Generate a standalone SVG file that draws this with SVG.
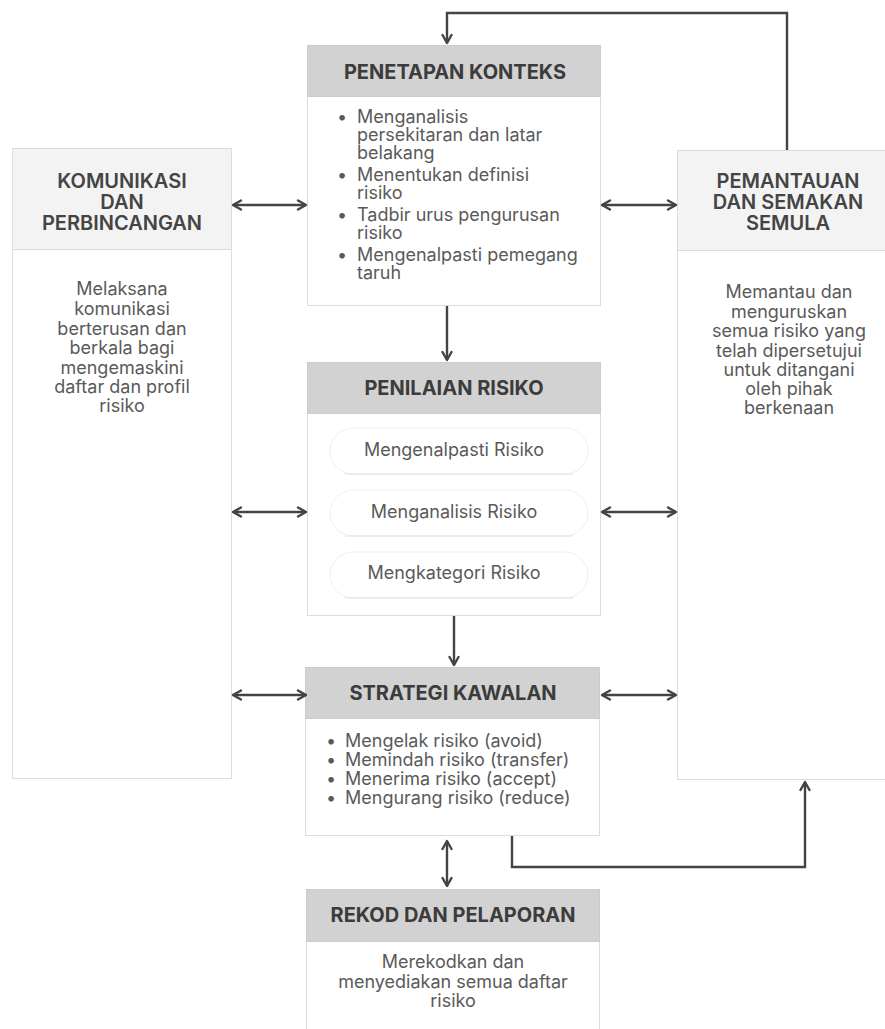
<svg xmlns="http://www.w3.org/2000/svg" width="885" height="1029" viewBox="0 0 885 1029">
<defs>
<marker id="ah" viewBox="0 0 12 12" refX="10" refY="6" markerWidth="12" markerHeight="12" markerUnits="userSpaceOnUse" orient="auto-start-reverse">
<path d="M2,1.5 L10,6 L2,10.5" fill="none" stroke="#444" stroke-width="2.4" stroke-linecap="round" stroke-linejoin="round"/>
</marker>
<style>
.box{fill:#fff;stroke:#dcdcdc;stroke-width:1}
.hd{fill:#d2d2d2;stroke:#cccccc;stroke-width:1}
.shd{fill:#f3f3f3;stroke:#dcdcdc;stroke-width:1}
.pill{fill:#fff;stroke:#efefef;stroke-width:1}
.pl{stroke:#e2e2e2;stroke-width:1}
.h{font-family:Inter,"Liberation Sans",sans-serif;font-weight:700;font-size:20px;fill:#3c3c3c;text-anchor:middle}
.sh{font-family:Inter,"Liberation Sans",sans-serif;font-weight:600;font-size:20px;fill:#444;text-anchor:middle}
.t{font-family:Inter,"Liberation Sans",sans-serif;font-weight:400;font-size:18px;fill:#5a5a5a}
.c{text-anchor:middle}
.b{font-size:18px}
.cn{fill:none;stroke:#444;stroke-width:2.4}
</style>
</defs>
<rect width="885" height="1029" fill="#fff"/>

<g id="komunikasi">
<rect class="box" x="12.5" y="148.5" width="219" height="630"/>
<rect class="shd" x="12.5" y="148.5" width="219" height="101"/>
<text class="sh" x="122"><tspan x="122" y="188">KOMUNIKASI</tspan><tspan x="122" y="209">DAN</tspan><tspan x="122" y="230">PERBINCANGAN</tspan></text>
<text class="t c" x="122"><tspan x="122" y="295">Melaksana</tspan><tspan x="122" y="315">komunikasi</tspan><tspan x="122" y="335">berterusan dan</tspan><tspan x="122" y="354">berkala bagi</tspan><tspan x="122" y="374">mengemaskini</tspan><tspan x="122" y="393">daftar dan profil</tspan><tspan x="122" y="412">risiko</tspan></text>
</g>

<g id="pemantauan">
<rect class="box" x="677.5" y="150.5" width="222" height="629"/>
<rect class="shd" x="677.5" y="150.5" width="222" height="100"/>
<text class="sh" x="788"><tspan x="788" y="188">PEMANTAUAN</tspan><tspan x="788" y="209">DAN SEMAKAN</tspan><tspan x="788" y="230">SEMULA</tspan></text>
<text class="t c" x="789"><tspan x="789" y="298">Memantau dan</tspan><tspan x="789" y="318">menguruskan</tspan><tspan x="789" y="337">semua risiko yang</tspan><tspan x="789" y="357">telah dipersetujui</tspan><tspan x="789" y="376">untuk ditangani</tspan><tspan x="789" y="395">oleh pihak</tspan><tspan x="789" y="414">berkenaan</tspan></text>
</g>

<g id="penetapan">
<rect class="box" x="307.5" y="45.5" width="293" height="260"/>
<rect class="hd" x="307.5" y="45.5" width="293" height="51"/>
<text class="h" x="455" y="79">PENETAPAN KONTEKS</text>
<g class="t b">
<text x="337" y="123">•</text><text x="357" y="123">Menganalisis</text>
<text x="357" y="141">persekitaran dan latar</text>
<text x="357" y="159">belakang</text>
<text x="337" y="181">•</text><text x="357" y="181">Menentukan definisi</text>
<text x="357" y="199">risiko</text>
<text x="337" y="221">•</text><text x="357" y="221">Tadbir urus pengurusan</text>
<text x="357" y="239">risiko</text>
<text x="337" y="261">•</text><text x="357" y="261">Mengenalpasti pemegang</text>
<text x="357" y="279">taruh</text>
</g>
</g>

<g id="penilaian">
<rect class="box" x="307.5" y="362.5" width="293" height="253"/>
<rect class="hd" x="307.5" y="362.5" width="293" height="51"/>
<text class="h" x="454" y="395">PENILAIAN RISIKO</text>
<rect class="pill" x="330" y="428" width="258" height="46" rx="23"/>
<line class="pl" x1="345" y1="474" x2="573" y2="474"/>
<rect class="pill" x="330" y="490" width="258" height="46" rx="23"/>
<line class="pl" x1="345" y1="536" x2="573" y2="536"/>
<rect class="pill" x="330" y="552" width="258" height="46" rx="23"/>
<line class="pl" x1="345" y1="598" x2="573" y2="598"/>
<text class="t c" x="454" y="456" font-size="18.5">Mengenalpasti Risiko</text>
<text class="t c" x="454" y="518" font-size="18.5">Menganalisis Risiko</text>
<text class="t c" x="454" y="579" font-size="18.5">Mengkategori Risiko</text>
</g>

<g id="strategi">
<rect class="box" x="305.5" y="667.5" width="294" height="168"/>
<rect class="hd" x="305.5" y="667.5" width="294" height="51"/>
<text class="h" x="453" y="700">STRATEGI KAWALAN</text>
<g class="t b">
<text x="326" y="747">•</text><text x="345" y="747">Mengelak risiko (avoid)</text>
<text x="326" y="766">•</text><text x="345" y="766">Memindah risiko (transfer)</text>
<text x="326" y="785">•</text><text x="345" y="785">Menerima risiko (accept)</text>
<text x="326" y="804">•</text><text x="345" y="804">Mengurang risiko (reduce)</text>
</g>
</g>

<g id="rekod">
<rect class="box" x="306.5" y="889.5" width="293" height="150"/>
<rect class="hd" x="306.5" y="889.5" width="293" height="52"/>
<text class="h" x="453" y="922">REKOD DAN PELAPORAN</text>
<text class="t c" x="453"><tspan x="453" y="968">Merekodkan dan</tspan><tspan x="453" y="988">menyediakan semua daftar</tspan><tspan x="453" y="1007">risiko</tspan></text>
</g>

<g id="connectors">
<path class="cn" d="M787,150 V13 H447 V43" marker-end="url(#ah)"/>
<path class="cn" d="M447,306 V360" marker-end="url(#ah)"/>
<path class="cn" d="M454,616 V665" marker-end="url(#ah)"/>
<path class="cn" d="M447,841 V886" marker-start="url(#ah)" marker-end="url(#ah)"/>
<path class="cn" d="M512,836 V867 H805 V782" marker-end="url(#ah)"/>
<path class="cn" d="M233,205 H306" marker-start="url(#ah)" marker-end="url(#ah)"/>
<path class="cn" d="M233,512 H306" marker-start="url(#ah)" marker-end="url(#ah)"/>
<path class="cn" d="M233,695 H306" marker-start="url(#ah)" marker-end="url(#ah)"/>
<path class="cn" d="M602,205 H676" marker-start="url(#ah)" marker-end="url(#ah)"/>
<path class="cn" d="M602,512 H676" marker-start="url(#ah)" marker-end="url(#ah)"/>
<path class="cn" d="M602,695 H676" marker-start="url(#ah)" marker-end="url(#ah)"/>
</g>
</svg>
